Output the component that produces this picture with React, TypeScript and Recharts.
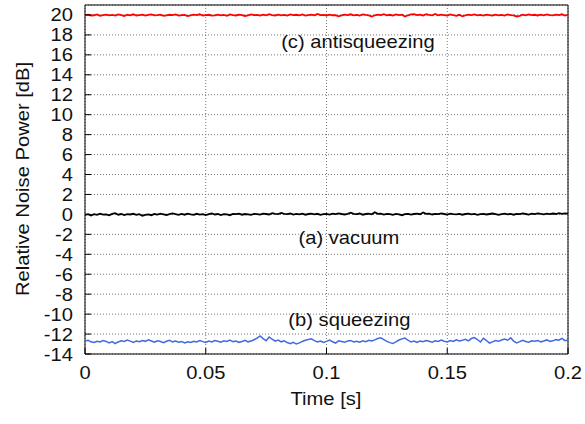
import React from 'react';
import {
  LineChart, Line, XAxis, YAxis, CartesianGrid, ReferenceArea, ReferenceDot
} from 'recharts';

// sampling grid of the scope trace (seconds between points)
const sampleStep = 0.00125;

const xTicks = [0, 0.05, 0.1, 0.15, 0.2];
const yTicks = [-14, -12, -10, -8, -6, -4, -2, 0, 2, 4, 6, 8, 10, 12, 14, 16, 18, 20];

// (c) antisqueezing, dB
const antisqueezing = [
  19.98, 20.04, 19.95, 19.97, 20.06, 19.92, 19.99, 20.03, 19.96, 20.01,
  19.94, 20.05, 19.98, 19.90, 20.02, 19.97, 20.07, 19.95, 19.99, 20.03,
  19.93, 20.00, 20.06, 19.96, 19.98, 20.04, 19.91, 19.97, 20.02, 19.99,
  20.05, 19.94, 19.98, 20.01, 19.89, 19.96, 20.03, 19.98, 20.07, 19.95,
  19.99, 20.02, 19.93, 19.97, 20.04, 19.96, 20.00, 19.92, 20.05, 19.98,
  19.95, 20.03, 19.99, 19.90, 19.97, 20.06, 19.98, 20.01, 19.94, 20.04,
  19.97, 20.08, 19.99, 19.95, 20.03, 19.96, 20.01, 19.93, 20.05, 19.98,
  20.02, 19.97, 20.06, 19.94, 19.99, 20.03, 19.96, 20.10, 19.98, 20.01,
  19.95, 20.04, 19.97, 19.99, 19.86, 19.96, 20.03, 19.98, 20.07, 19.97,
  20.01, 19.94, 20.05, 20.00, 19.96, 19.84, 19.97, 20.04, 19.99, 20.08,
  19.96, 20.02, 19.93, 20.06, 19.98, 20.03, 19.85, 19.97, 20.05, 20.09,
  19.98, 20.04, 19.95, 20.07, 20.01, 19.97, 20.10, 19.96, 20.03, 19.99,
  19.94, 20.05, 19.98, 19.92, 20.02, 19.87, 19.97, 20.04, 19.99, 20.06,
  19.96, 20.01, 19.93, 20.04, 19.98, 19.95, 20.03, 19.97, 20.00, 19.94,
  20.05, 19.98, 19.96, 19.85, 19.92, 20.03, 19.97, 20.06, 19.99, 20.02,
  19.95, 20.04, 19.97, 20.05, 19.99, 19.96, 20.03, 19.98, 20.07, 19.94,
  20.01,
];

// (a) vacuum, dB
const vacuum = [
  -0.05, 0.03, -0.12, 0.02, -0.04, 0.08, -0.02, 0.01, -0.09, 0.05,
  0.12, -0.03, 0.04, -0.07, 0.02, -0.01, 0.06, -0.05, 0.03, -0.13,
  -0.04, 0.01, -0.08, 0.04, -0.02, 0.07, 0.01, -0.06, 0.03, 0.10,
  0.02, -0.05, 0.05, -0.03, 0.08, 0.01, -0.04, 0.06, -0.02, 0.03,
  -0.07, 0.02, 0.09, -0.01, 0.04, -0.06, 0.03, 0.00, -0.08, 0.05,
  0.02, 0.07, -0.03, 0.04, 0.01, -0.05, 0.06, 0.03, -0.02, 0.08,
  0.04, -0.01, 0.12, 0.05, 0.03, 0.15, 0.06, 0.02, 0.09, -0.02,
  0.05, 0.01, 0.07, -0.03, 0.04, 0.08, 0.00, 0.06, -0.04, 0.03,
  0.05, -0.02, 0.07, 0.02, 0.10, 0.04, -0.01, 0.06, 0.18, 0.05,
  0.02, 0.09, -0.03, 0.04, 0.07, 0.01, 0.22, 0.05, 0.08, -0.02,
  0.06, 0.03, -0.04, 0.05, 0.00, -0.08, 0.03, 0.06, -0.02, 0.04,
  0.07, 0.02, 0.20, 0.05, 0.08, -0.01, 0.06, 0.03, 0.11, 0.04,
  -0.02, 0.07, 0.03, 0.00, 0.06, -0.03, 0.04, 0.08, 0.01, 0.05,
  -0.04, 0.03, 0.06, -0.01, 0.04, 0.09, 0.02, -0.05, 0.03, 0.07,
  0.01, 0.05, -0.03, 0.06, 0.02, 0.10, 0.04, -0.02, 0.08, 0.03,
  0.11, 0.05, 0.01, 0.07, 0.03, 0.09, 0.04, 0.13, 0.06, 0.10,
  0.08,
];

// (b) squeezing, dB
const squeezing = [
  -12.70, -12.62, -12.78, -12.85, -12.72, -12.80, -12.66, -12.74, -12.88, -12.76,
  -12.95, -12.79, -12.68, -12.74, -12.60, -12.71, -12.83, -12.69, -12.77, -12.64,
  -12.73, -12.58, -12.70, -12.82, -12.67, -12.75, -12.86, -12.72, -12.63, -12.78,
  -12.69, -12.81, -12.74, -12.90, -12.77, -12.85, -12.72, -12.80, -12.66, -12.76,
  -12.84, -12.71, -12.79, -12.65, -12.73, -12.82, -12.68, -12.75, -12.61, -12.77,
  -12.70, -12.83, -12.74, -12.62, -12.78, -12.69, -12.57, -12.40, -12.18, -12.45,
  -12.66, -12.30, -12.52, -12.71, -12.60, -12.78, -12.68, -12.85, -12.97, -12.82,
  -13.00, -12.88, -12.74, -12.62, -12.55, -12.48, -12.66, -12.79, -12.70, -12.84,
  -12.73, -12.61, -12.77, -12.90, -12.68, -12.75, -12.83, -12.70, -12.64, -12.79,
  -12.72, -12.81, -12.67, -12.76, -12.62, -12.70, -12.58, -12.45, -12.38, -12.55,
  -12.74, -12.86, -12.95, -12.78, -12.60, -12.48, -12.40, -12.62, -12.80, -12.71,
  -12.85, -12.69, -12.77, -12.64, -12.73, -12.82, -12.68, -12.75, -12.60, -12.72,
  -12.79, -12.66, -12.74, -12.58, -12.70, -12.63, -12.52, -12.68, -12.45, -12.36,
  -12.55, -12.80, -12.42, -12.65, -12.90, -12.78, -12.66, -12.73, -12.60, -12.50,
  -12.62, -12.38, -12.70, -12.88, -12.76, -12.62, -12.74, -12.81, -12.67, -12.72,
  -12.64, -12.78, -12.70, -12.59, -12.75, -12.68, -12.56, -12.62, -12.44, -12.66,
  -12.60,
];

const data = antisqueezing.map((v, i) => ({
  t: i * sampleStep,
  anti: v,
  vac: vacuum[i],
  sq: squeezing[i],
}));

const FONT = '"Liberation Sans", Arial, Helvetica, sans-serif';
const WIDE = 1.12; // reference font runs a bit wider than Arial

const WideText = ({ x, y, text, anchor = 'middle', rotate = 0, size = 18 }: any) => (
  <g transform={`translate(${x},${y}) rotate(${rotate}) scale(${WIDE},1)`}>
    <text x={0} y={0} textAnchor={anchor} fontFamily={FONT} fontSize={size} fill="#111">
      {text}
    </text>
  </g>
);

const fmtX = (v: number) => String(Number(v.toFixed(2)));

const LeftTick = ({ x, y, payload }: any) => (
  <g>
    <line x1={x} y1={y} x2={x + 6} y2={y} stroke="#000" />
    <WideText x={x - 12} y={y + 6.5} text={String(payload.value)} anchor="end" />
  </g>
);

const RightTick = ({ x, y }: any) => (
  <line x1={x} y1={y} x2={x - 6} y2={y} stroke="#000" />
);

const BottomTick = ({ x, y, payload }: any) => (
  <g>
    <line x1={x} y1={y} x2={x} y2={y - 6} stroke="#000" />
    <WideText x={x} y={y + 25} text={fmtX(payload.value)} />
  </g>
);

const TopTick = ({ x, y }: any) => (
  <line x1={x} y1={y} x2={x} y2={y + 6} stroke="#000" />
);

const annotation = (text: string) => (p: any) => (
  <WideText x={p.cx} y={p.cy + 6.5} text={text} />
);

const App: React.FC = () => {
  return (
    <div style={{ position: 'absolute', left: 0, top: 0 }}>
      <LineChart
        width={585}
        height={424}
        data={data}
        margin={{ top: 5, right: 17, bottom: 0, left: 0 }}
      >
        <CartesianGrid stroke="#777" strokeDasharray="1 2" />
        <XAxis
          dataKey="t"
          type="number"
          domain={[0, 0.2]}
          ticks={xTicks}
          height={70}
          tickSize={0}
          tickMargin={0}
          axisLine={false}
          tickLine={false}
          tick={<BottomTick />}
          allowDataOverflow
        />
        <XAxis
          xAxisId="top"
          orientation="top"
          type="number"
          domain={[0, 0.2]}
          ticks={xTicks}
          height={0}
          tickSize={0}
          tickMargin={0}
          axisLine={false}
          tickLine={false}
          tick={<TopTick />}
        />
        <YAxis
          type="number"
          domain={[-14, 21]}
          ticks={yTicks}
          width={85}
          tickSize={0}
          tickMargin={0}
          axisLine={false}
          tickLine={false}
          tick={<LeftTick />}
          interval={0}
          allowDataOverflow
        />
        <YAxis
          yAxisId="right"
          orientation="right"
          type="number"
          domain={[-14, 21]}
          ticks={yTicks}
          width={0}
          tickSize={0}
          tickMargin={0}
          axisLine={false}
          tickLine={false}
          tick={<RightTick />}
          interval={0}
        />
        <ReferenceArea x1={0} x2={0.2} y1={-14} y2={21} fill="none" stroke="#000" strokeWidth={1} />
        <Line dataKey="anti" stroke="#ff0000" strokeWidth={1.8} dot={false} isAnimationActive={false} />
        <Line dataKey="vac" stroke="#000000" strokeWidth={1.8} dot={false} isAnimationActive={false} />
        <Line dataKey="sq" stroke="#4169e1" strokeWidth={1.5} dot={false} isAnimationActive={false} />
        <ReferenceDot x={0.113} y={17.29} r={0} shape={annotation('(c) antisqueezing')} />
        <ReferenceDot x={0.1093} y={-2.27} r={0} shape={annotation('(a) vacuum')} />
        <ReferenceDot x={0.1095} y={-10.59} r={0} shape={annotation('(b) squeezing')} />
      </LineChart>
      <svg
        width={585}
        height={424}
        style={{ position: 'absolute', left: 0, top: 0, pointerEvents: 'none' }}
      >
        <WideText x={29} y={179} rotate={-90} text="Relative Noise Power [dB]" />
        <WideText x={326} y={405} text="Time [s]" />
      </svg>
    </div>
  );
};

export default App;
